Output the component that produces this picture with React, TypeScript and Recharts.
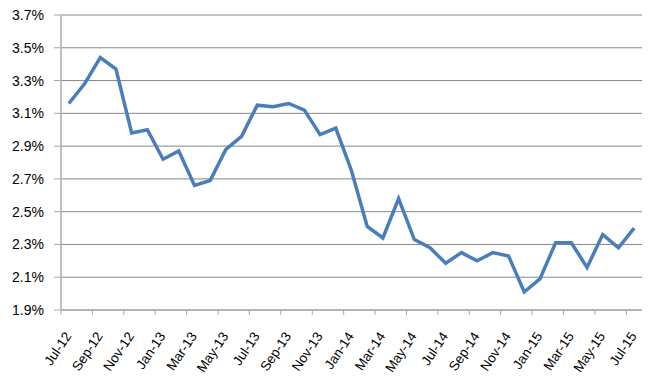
import React from "react";
import { LineChart, Line, XAxis, YAxis, CartesianGrid } from "recharts";

const months = [
    "Jul-12", "Aug-12", "Sep-12", "Oct-12", "Nov-12", "Dec-12",
    "Jan-13", "Feb-13", "Mar-13", "Apr-13", "May-13", "Jun-13",
    "Jul-13", "Aug-13", "Sep-13", "Oct-13", "Nov-13", "Dec-13",
    "Jan-14", "Feb-14", "Mar-14", "Apr-14", "May-14", "Jun-14",
    "Jul-14", "Aug-14", "Sep-14", "Oct-14", "Nov-14", "Dec-14",
    "Jan-15", "Feb-15", "Mar-15", "Apr-15", "May-15", "Jun-15",
    "Jul-15",
];

const rates = [
    3.16, 3.28, 3.44, 3.37, 2.98, 3.0,
    2.82, 2.87, 2.66, 2.69, 2.88, 2.96,
    3.15, 3.14, 3.16, 3.12, 2.97, 3.01,
    2.75, 2.41, 2.34, 2.58, 2.33, 2.28,
    2.185, 2.25, 2.2, 2.25, 2.23, 2.01,
    2.09, 2.31, 2.31, 2.16, 2.36, 2.28,
    2.4,
];

const yTicks = [1.9, 2.1, 2.3, 2.5, 2.7, 2.9, 3.1, 3.3, 3.5, 3.7];

const data = months.map((m, i) => ({ month: m, rate: rates[i] }));

const W = 658;
const H = 391;
const margin = { top: 15, right: 16, left: 0, bottom: 0 };
const xAxisHeight = 81;
const yAxisWidth = 61;
const bandWidth = (W - yAxisWidth - margin.right) / months.length;
const font = "'Liberation Sans', Arial, sans-serif";

// tick mark sits on the category boundary, label on the category centre
const MonthTick = (props: any) => {
    const { x, y, payload } = props;
    const tx = x - bandWidth / 2;
    const lx = x + 3;
    const ly = y + 26;
    return (
        <g>
            <line x1={tx} y1={y} x2={tx} y2={y + 5} stroke="#a6a6a6" strokeWidth={1} />
            <text
                x={lx}
                y={ly}
                textAnchor="end"
                fontSize={13.5}
                fontFamily={font}
                fill="#000"
                transform={`rotate(-56, ${lx}, ${ly})`}
            >
                {payload.value}
            </text>
        </g>
    );
};

export default function App() {
    return (
        <div style={{ position: "absolute", left: 0, top: 0, background: "#fff" }}>
            <LineChart width={W} height={H} data={data} margin={margin}>
                <CartesianGrid
                    horizontal={true}
                    vertical={false}
                    stroke="#868686"
                    strokeWidth={1}
                />
                <XAxis
                    dataKey="month"
                    scale="band"
                    interval={1}
                    tickLine={false}
                    tickSize={0}
                    tickMargin={0}
                    axisLine={{ stroke: "#a6a6a6", strokeWidth: 1 }}
                    tick={<MonthTick />}
                    height={xAxisHeight}
                />
                <YAxis
                    domain={[1.9, 3.7]}
                    ticks={yTicks}
                    width={yAxisWidth}
                    tickSize={7}
                    tickMargin={10}
                    tickLine={{ stroke: "#a6a6a6" }}
                    axisLine={{ stroke: "#bfbfbf", strokeWidth: 2 }}
                    tickFormatter={(v: number) => `${v.toFixed(1)}%`}
                    tick={{ fill: "#000", fontSize: 14, fontFamily: font }}
                    allowDataOverflow
                />
                <Line
                    type="linear"
                    dataKey="rate"
                    stroke="#4a7ebb"
                    strokeWidth={3.5}
                    dot={false}
                    strokeLinejoin="miter"
                    isAnimationActive={false}
                />
            </LineChart>
        </div>
    );
}
